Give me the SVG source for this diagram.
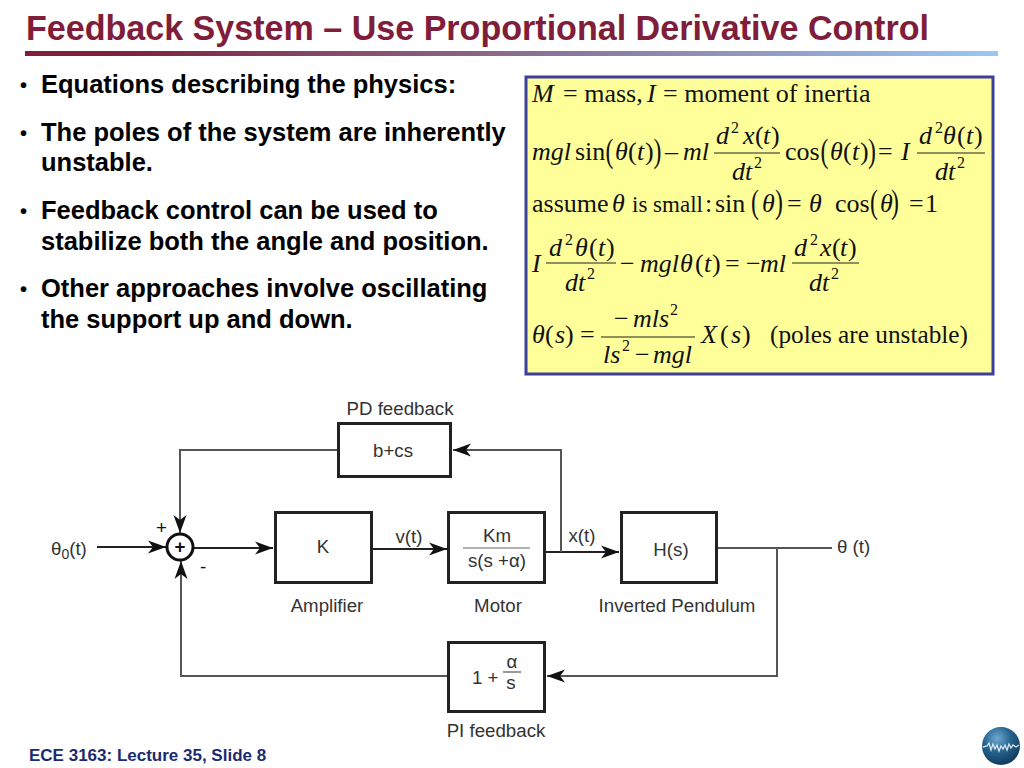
<svg xmlns="http://www.w3.org/2000/svg" width="1024" height="768" viewBox="0 0 1024 768">
<style>
text{white-space:pre}
.title{font:bold 35px "Liberation Sans",Arial,sans-serif;fill:#7f1d3a}
.b{font:bold 25.500px "Liberation Sans",Arial,sans-serif;fill:#000}
.bu{font:bold 20px "Liberation Sans",Arial,sans-serif;fill:#000}
.foot{font:bold 17px "Liberation Sans",Arial,sans-serif;fill:#1c2a70}
.m{font:26px "Liberation Serif","Times New Roman",serif;fill:#111}
.i{font:italic 26px "Liberation Serif","Times New Roman",serif;fill:#111}
.s{font:16px "Liberation Serif","Times New Roman",serif;fill:#111}
.p{font:34px "Liberation Serif","Times New Roman",serif;fill:#111}
.fb{stroke:#222;stroke-width:1.200}
.box{fill:#fff;stroke:#222;stroke-width:3}
.c{fill:none;stroke:#555;stroke-width:2}
.d{fill:none;stroke:#222;stroke-width:2}
.a{marker-end:url(#arr)}
.l{font:18.700px "Liberation Sans",Arial,sans-serif;fill:#333}
.t{text-anchor:middle}
</style>
<defs>
<linearGradient id="bar" x1="0" x2="1" y1="0" y2="0"><stop offset="0" stop-color="#7f1d3a"/><stop offset="0.08" stop-color="#7f1d3a"/><stop offset="1" stop-color="#98c8f4"/></linearGradient>
<radialGradient id="globe" cx="0.4" cy="0.3" r="0.8"><stop offset="0" stop-color="#6fa8d0"/><stop offset="0.45" stop-color="#23648f"/><stop offset="1" stop-color="#0e2f4d"/></radialGradient>
<marker id="arr" markerUnits="userSpaceOnUse" markerWidth="22" markerHeight="16" refX="18" refY="7" orient="auto"><path d="M0,0.500 L18,7 L0,13.500 L5,7z" fill="#111"/></marker>
</defs>
<rect width="1024" height="768" fill="#fff"/>
<g id="header">
<text class="title" x="26" y="40" textLength="903" lengthAdjust="spacingAndGlyphs">Feedback System – Use Proportional Derivative Control</text>
<rect x="25" y="51" width="973" height="5" fill="url(#bar)"/>
</g>
<g id="bullets">
<text class="bu" x="20" y="92">•</text><text class="b" x="41" y="93">Equations describing the physics:</text>
<text class="bu" x="20" y="140">•</text><text class="b" x="41" y="141">The poles of the system are inherently</text>
<text class="b" x="41" y="171">unstable.</text>
<text class="bu" x="20" y="218">•</text><text class="b" x="41" y="219">Feedback control can be used to</text>
<text class="b" x="41" y="250">stabilize both the angle and position.</text>
<text class="bu" x="20" y="296">•</text><text class="b" x="41" y="297">Other approaches involve oscillating</text>
<text class="b" x="41" y="328">the support up and down.</text>
</g>
<g id="equations">
<rect x="526" y="77" width="467" height="297" fill="#ffff99" stroke="#3c3f9c" stroke-width="3"/>
<text class="i" x="532" y="102">M</text><text class="m" x="563" y="102">= mass,</text><text class="i" x="647" y="102">I</text><text class="m" x="663" y="102">= moment of inertia</text>

<text class="i" x="532" y="160">mgl</text><text class="m" x="575" y="160">sin</text><text class="p" transform="translate(605.500,162) scale(.7,1)">(</text><text class="i" x="615" y="160">θ</text><text class="m" x="628" y="160">(</text><text class="i" x="637" y="160">t</text><text class="m" x="645" y="160">)</text><text class="p" transform="translate(653.500,162) scale(.7,1)">)</text><text class="m" x="665" y="160">–</text><text class="i" x="683" y="160">ml</text>
<line class="fb" x1="714" y1="153" x2="780" y2="153"/>
<text class="i" x="716" y="144">d</text><text class="s" x="731" y="133">2</text><text class="i" x="743" y="144">x</text><text class="m" x="755" y="144">(</text><text class="i" x="763" y="144">t</text><text class="m" x="771" y="144">)</text>
<text class="i" x="732" y="180">dt</text><text class="s" x="754" y="168">2</text>
<text class="m" x="785" y="160">cos</text><text class="p" transform="translate(820.500,162) scale(.7,1)">(</text><text class="i" x="830" y="160">θ</text><text class="m" x="843" y="160">(</text><text class="i" x="852" y="160">t</text><text class="m" x="860" y="160">)</text><text class="p" transform="translate(868,162) scale(.7,1)">)</text><text class="m" x="878" y="160">=</text><text class="i" x="901" y="160">I</text>
<line class="fb" x1="917" y1="153" x2="985" y2="153"/>
<text class="i" x="919" y="144">d</text><text class="s" x="935" y="133">2</text><text class="i" x="943" y="144">θ</text><text class="m" x="957" y="144">(</text><text class="i" x="966" y="144">t</text><text class="m" x="974" y="144">)</text>
<text class="i" x="935" y="180">dt</text><text class="s" x="957" y="168">2</text>

<text class="m" x="532" y="212">assume</text><text class="i" x="612" y="212">θ</text><text class="m" x="632" y="212" style="font-size:23px">is small</text><text class="m" x="705" y="212">:</text><text class="m" x="715" y="212">sin</text><text class="p" transform="translate(751,213) scale(.7,1)">(</text><text class="i" x="762" y="212">θ</text><text class="p" transform="translate(775,213) scale(.7,1)">)</text><text class="m" x="787" y="212">=</text><text class="i" x="809" y="212">θ</text><text class="m" x="835" y="212">cos</text><text class="p" transform="translate(870,213) scale(.7,1)">(</text><text class="i" x="880" y="212">θ</text><text class="p" transform="translate(891,213) scale(.7,1)">)</text><text class="m" x="909" y="212">=</text><text class="m" x="925" y="212">1</text>

<text class="i" x="532" y="272">I</text>
<line class="fb" x1="546" y1="263" x2="616" y2="263"/>
<text class="i" x="549" y="256">d</text><text class="s" x="565" y="245">2</text><text class="i" x="575" y="256">θ</text><text class="m" x="589" y="256">(</text><text class="i" x="598" y="256">t</text><text class="m" x="606" y="256">)</text>
<text class="i" x="565" y="291">dt</text><text class="s" x="587" y="279">2</text>
<text class="m" x="620" y="272">−</text><text class="i" x="640" y="272">mgl</text><text class="i" x="680" y="272">θ</text><text class="m" x="695" y="272">(</text><text class="i" x="704" y="272">t</text><text class="m" x="712" y="272">)</text><text class="m" x="725" y="272">=</text><text class="m" x="746" y="272">−</text><text class="i" x="760" y="272">ml</text>
<line class="fb" x1="792" y1="263" x2="859" y2="263"/>
<text class="i" x="794" y="256">d</text><text class="s" x="810" y="245">2</text><text class="i" x="820" y="256">x</text><text class="m" x="832" y="256">(</text><text class="i" x="840" y="256">t</text><text class="m" x="848" y="256">)</text>
<text class="i" x="809" y="291">dt</text><text class="s" x="831" y="279">2</text>

<text class="i" x="532" y="343">θ</text><text class="m" x="545" y="343">(</text><text class="i" x="555" y="343">s</text><text class="m" x="565" y="343">)</text><text class="m" x="580" y="343">=</text>
<line class="fb" x1="601" y1="337" x2="695" y2="337"/>
<text class="m" x="614" y="327">−</text><text class="i" x="633" y="327">mls</text><text class="s" x="670" y="315">2</text>
<text class="i" x="603" y="363">ls</text><text class="s" x="622" y="351">2</text><text class="m" x="635" y="363">−</text><text class="i" x="653" y="363">mgl</text>
<text class="i" x="701" y="343">X</text><text class="m" x="720" y="343">(</text><text class="i" x="731" y="343">s</text><text class="m" x="742" y="343">)</text>
<text class="m" x="770" y="343" textLength="198" lengthAdjust="spacingAndGlyphs">(poles are unstable)</text>
</g>
<g id="connectors">
<path class="d a" d="M97,547H166"/>
<path class="d a" d="M194,548H273"/>
<path class="d a" d="M372,549H447"/>
<path class="d a" d="M545,552H619"/>
<path class="c a" d="M561,552V450H453"/>
<path class="c a" d="M338,450H180V533"/>
<path class="c" d="M717,548H832"/>
<path class="c a" d="M777,548V676H547"/>
<path class="c a" d="M448,676H181V561"/>
</g>
<g id="sum"><circle cx="180" cy="547" r="13" fill="#fff" stroke="#111" stroke-width="3"/><text class="l t" x="180" y="553" style="font-weight:bold;fill:#111">+</text></g>
<text class="l" x="156" y="534" style="fill:#111">+</text>
<text class="l" x="200" y="573" style="fill:#111">-</text>
<text class="l" x="51" y="555">θ<tspan font-size="14" dy="4">0</tspan><tspan dy="-4">(t)</tspan></text>
<g id="pd"><rect class="box" x="338.500" y="423.500" width="112" height="53"/><text class="l t" x="393" y="457">b+cs</text><text class="l t" x="400" y="415">PD feedback</text></g>
<g id="amp"><rect class="box" x="275.500" y="512.500" width="96" height="70"/><text class="l t" x="323" y="553">K</text><text class="l t" x="327" y="612">Amplifier</text></g>
<text class="l t" x="409" y="543">v(t)</text>
<g id="motor"><rect class="box" x="448.500" y="512.500" width="96" height="70"/><line x1="463" y1="548" x2="530" y2="548" stroke="#999" stroke-width="1.500"/><text class="l t" x="497" y="542">Km</text><text class="l t" x="497" y="567">s(s +α)</text><text class="l t" x="498" y="612">Motor</text></g>
<text class="l t" x="582" y="542">x(t)</text>
<g id="pendulum"><rect class="box" x="621.500" y="512.500" width="95" height="70"/><text class="l t" x="671" y="556">H(s)</text><text class="l t" x="677" y="612">Inverted Pendulum</text></g>
<text class="l" x="837" y="553">θ (t)</text>
<g id="pi"><rect class="box" x="448.500" y="642.500" width="96" height="69"/><text class="l" x="472" y="684">1 +</text><line x1="503" y1="672" x2="521" y2="672" stroke="#777" stroke-width="1.500"/><text class="l t" x="512" y="668">α</text><text class="l t" x="511" y="689">s</text><text class="l t" x="496" y="737">PI feedback</text></g>
<g id="footer">
<text class="foot" x="29" y="761">ECE 3163: Lecture 35, Slide 8</text>
<circle cx="1001" cy="746" r="19" fill="url(#globe)"/>
<polyline points="983,747 987,746 989,743 991,750 993,744 995,749 997,745 999,751 1001,746 1003,749 1005,745 1007,750 1009,744 1011,748 1013,745 1016,747 1019,745" fill="none" stroke="#d8e4ea" stroke-width="1.300"/>
</g>
</svg>
